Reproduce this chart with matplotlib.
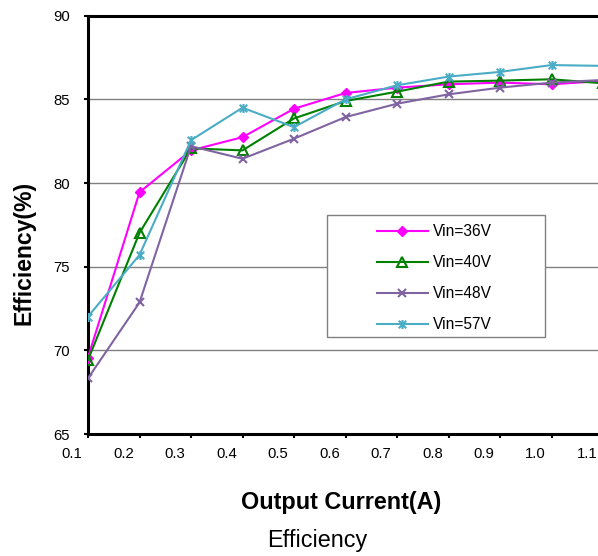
import matplotlib
matplotlib.use("Agg")
import matplotlib.pyplot as plt
from matplotlib.path import Path
from matplotlib.patches import Rectangle
from matplotlib.transforms import ScaledTranslation

plt.rcParams['font.family'] = ['Liberation Sans', 'DejaVu Sans']

current = [0.1, 0.2, 0.3, 0.4, 0.5, 0.6, 0.7, 0.8, 0.9, 1.0, 1.1]
v36 = [69.57, 79.45, 81.95, 82.74, 84.44, 85.38, 85.70, 85.90, 86.00, 85.90, 86.10]
v40 = [69.43, 77.02, 82.07, 81.95, 83.86, 84.90, 85.46, 86.06, 86.12, 86.20, 85.96]
v48 = [68.33, 72.86, 82.20, 81.45, 82.65, 83.94, 84.74, 85.30, 85.70, 86.00, 86.16]
v57 = [72.02, 75.70, 82.56, 84.50, 83.34, 85.00, 85.84, 86.36, 86.64, 87.05, 87.00]
series_labels = ["Vin=36V", "Vin=40V", "Vin=48V", "Vin=57V"]
xticks = [0.1, 0.2, 0.3, 0.4, 0.5, 0.6, 0.7, 0.8, 0.9, 1.0, 1.1]
xticklabels = ["0.1", "0.2", "0.3", "0.4", "0.5", "0.6", "0.7", "0.8", "0.9", "1.0", "1.1"]
yticks = [65, 70, 75, 80, 85, 90]

W, H = 598, 556
fig = plt.figure(figsize=(W / 100, H / 100), dpi=100)
ax = fig.add_axes([88 / W, (H - 434) / H, (603 - 88) / W, (434 - 15.7) / H])

star = Path([(-1, -1), (1, 1), (-1, 1), (1, -1), (0, -1.2), (0, 1.2)],
            [Path.MOVETO, Path.LINETO, Path.MOVETO, Path.LINETO, Path.MOVETO, Path.LINETO])

ax.plot(current, v36, color='#FF00FF', lw=1.5, marker='D', ms=5.5, mfc='#FF00FF', mec='#FF00FF', label=series_labels[0], zorder=3)
ax.plot(current, v40, color='#008000', lw=1.5, marker='^', ms=6.5, mfc='none', mec='#008000', mew=1.5, label=series_labels[1], zorder=3)
ax.plot(current, v48, color='#8064A2', lw=1.5, marker='x', ms=6, mec='#8064A2', mew=1.5, label=series_labels[2], zorder=3)
ax.plot(current, v57, color='#4BACC6', lw=1.5, marker=star, ms=6.5, mec='#4BACC6', mew=1.5, label=series_labels[3], zorder=3)

ax.set_xlim(0.1, 1.1)
ax.set_ylim(65, 90)
ax.set_yticks(yticks)
ax.set_yticklabels([str(v) for v in yticks])
ax.set_xticks(xticks)
ax.set_xticklabels(xticklabels)
ax.yaxis.grid(True, color='#808080', lw=1)
ax.set_axisbelow(True)

for s in ['left', 'bottom', 'top']:
    ax.spines[s].set_linewidth(2.2)
    ax.spines[s].set_color('black')
ax.spines['right'].set_visible(False)

ax.tick_params(axis='both', direction='out', length=3, width=1.5, labelsize=10.7, colors='black')
ax.tick_params(axis='y', pad=10)
ax.tick_params(axis='x', pad=6)

off = ScaledTranslation(-16 / 100, 0, fig.dpi_scale_trans)
for lab in ax.get_xticklabels():
    lab.set_transform(lab.get_transform() + off)

fig.text(341 / W, 1 - 503 / H, "Output Current(A)", ha='center', va='center', fontsize=16.8, fontweight='bold')
fig.text(317 / W, 1 - 541 / H, "Efficiency", ha='center', va='center', fontsize=16.8)
fig.text(24 / W, 1 - 253 / H, "Efficiency(%)", ha='center', va='center', rotation=90, fontsize=16.6, fontweight='bold')

rect = Rectangle((327 / W, 1 - 337 / H), 218 / W, 122 / H, transform=fig.transFigure,
                 facecolor='white', edgecolor='#808080', lw=1, zorder=5)
ax.add_patch(rect)
rect.set_clip_on(False)

leg = ax.legend(loc='upper left', bbox_to_anchor=(377 / W, 1 - 224 / H), bbox_transform=fig.transFigure,
                frameon=False, fontsize=11.2, borderpad=0, borderaxespad=0, handlelength=3.25,
                handletextpad=0.33, labelspacing=1.03)
leg.set_zorder(6)

fig.savefig("out.png", dpi=100)
